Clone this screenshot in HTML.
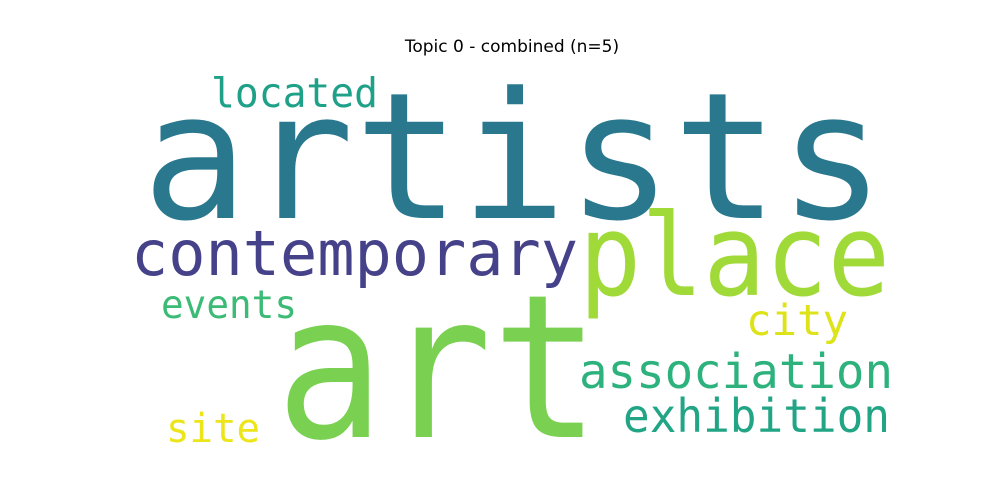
<!DOCTYPE html>
<html><head><meta charset="utf-8"><style>
html,body{margin:0;padding:0;background:#fff;}
svg{display:block;}
text{font-family:"DejaVu Sans Mono","Liberation Mono",monospace;}
</style></head><body>
<svg width="1000" height="500" viewBox="0 0 1000 500">
<rect width="1000" height="500" fill="#fff"/>
<text x="512" y="52" text-anchor="middle" font-size="17" fill="#000" style="font-family:'DejaVu Sans','Liberation Sans',sans-serif">Topic 0 - combined (n=5)</text>
<text x="142" y="218" font-size="176" fill="#2a788e" textLength="743" lengthAdjust="spacingAndGlyphs">artists</text>
<text x="276" y="437" font-size="200" fill="#7ad151" textLength="324" lengthAdjust="spacingAndGlyphs">art</text>
<text x="579" y="295" font-size="113" fill="#a0da39" textLength="311" lengthAdjust="spacingAndGlyphs">place</text>
<text x="131" y="275" font-size="62" fill="#46428a" textLength="447" lengthAdjust="spacingAndGlyphs">contemporary</text>
<text x="211" y="107" font-size="41" fill="#1fa088" textLength="167" lengthAdjust="spacingAndGlyphs">located</text>
<text x="161" y="318" font-size="39" fill="#3bbb75" textLength="136" lengthAdjust="spacingAndGlyphs">events</text>
<text x="746" y="335" font-size="43" fill="#dde318" textLength="102" lengthAdjust="spacingAndGlyphs">city</text>
<text x="579" y="388" font-size="48" fill="#2db27d" textLength="314" lengthAdjust="spacingAndGlyphs">association</text>
<text x="623" y="432" font-size="46" fill="#21a585" textLength="267" lengthAdjust="spacingAndGlyphs">exhibition</text>
<text x="166" y="442" font-size="40" fill="#ede51b" textLength="94" lengthAdjust="spacingAndGlyphs">site</text>
</svg>
</body></html>
